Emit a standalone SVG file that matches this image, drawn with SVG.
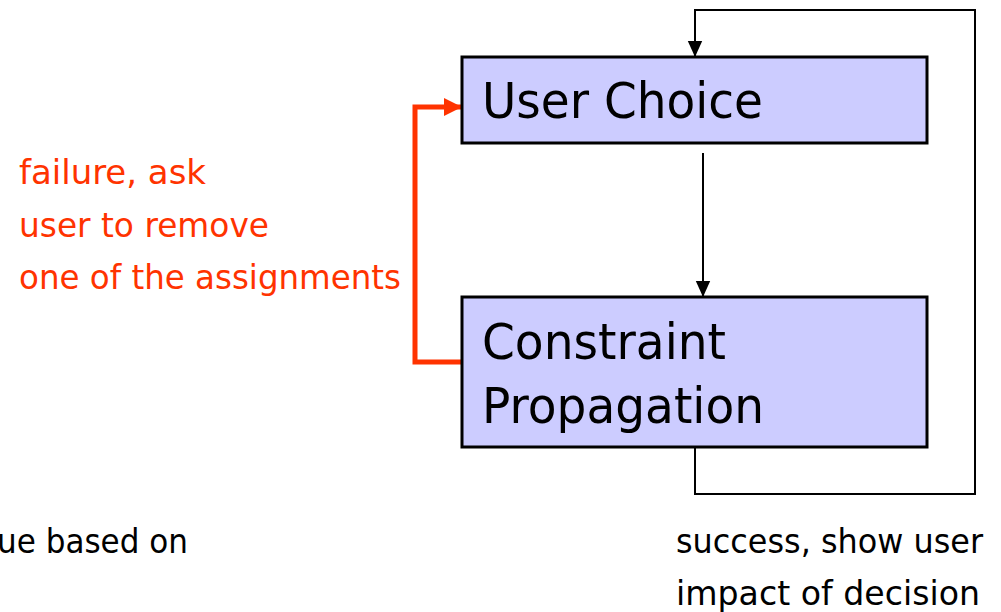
<svg xmlns="http://www.w3.org/2000/svg" width="1001" height="612" viewBox="0 0 1001 612">
  <defs>
    <marker id="arrowBlack" viewBox="0 0 10 10" refX="10" refY="5" markerWidth="16" markerHeight="16" markerUnits="userSpaceOnUse" orient="auto">
      <path d="M0,0.5 L10,5 L0,9.5 z" fill="#000"/>
    </marker>
    <marker id="arrowRed" viewBox="0 0 10 10" refX="10" refY="5" markerWidth="18" markerHeight="18" markerUnits="userSpaceOnUse" orient="auto">
      <path d="M0,0 L10,5 L0,10 z" fill="#ff3300"/>
    </marker>
    <style>
      .box { fill: #ccccff; stroke: #000; stroke-width: 3; }
      .label { font-family: "DejaVu Sans", sans-serif; font-size: 50px; fill: #000; }
      .note { font-family: "DejaVu Sans", sans-serif; font-size: 33px; fill: #000; }
      .fail { font-family: "DejaVu Sans", sans-serif; font-size: 33px; fill: #ff3300; }
      .link { fill: none; stroke: #000; stroke-width: 2; }
      .linkFail { fill: none; stroke: #ff3300; stroke-width: 5; }
    </style>
  </defs>

  <rect width="1001" height="612" fill="#fff"/>

  <g id="connectors">
    <!-- User Choice to Constraint Propagation -->
    <path class="link" d="M703,153 L703,297" marker-end="url(#arrowBlack)"/>
    <!-- success loop back to User Choice -->
    <path class="link" d="M695,447 L695,494 L975,494 L975,10 L695,10 L695,57" marker-end="url(#arrowBlack)"/>
    <!-- failure back to User Choice -->
    <path class="linkFail" d="M462,362 L415,362 L415,107 L462,107" marker-end="url(#arrowRed)"/>
  </g>

  <g id="user-choice">
    <rect class="box" x="462" y="57" width="465" height="86"/>
    <text class="label" x="482" y="118" textLength="281" lengthAdjust="spacingAndGlyphs">User Choice</text>
  </g>

  <g id="constraint-propagation">
    <rect class="box" x="462" y="297" width="465" height="150"/>
    <text class="label" x="482" y="359" textLength="244" lengthAdjust="spacingAndGlyphs">Constraint</text>
    <text class="label" x="482" y="423" textLength="282" lengthAdjust="spacingAndGlyphs">Propagation</text>
  </g>

  <g id="failure-label">
    <text class="fail" x="19" y="184" textLength="187" lengthAdjust="spacingAndGlyphs">failure, ask</text>
    <text class="fail" x="19" y="237" textLength="250" lengthAdjust="spacingAndGlyphs">user to remove</text>
    <text class="fail" x="19" y="289" textLength="382" lengthAdjust="spacingAndGlyphs">one of the assignments</text>
  </g>

  <g id="success-label">
    <text class="note" x="676" y="553" textLength="307" lengthAdjust="spacingAndGlyphs">success, show user</text>
    <text class="note" x="676" y="605" textLength="304" lengthAdjust="spacingAndGlyphs">impact of decision</text>
  </g>

  <g id="value-label">
    <text class="note" x="-3" y="553" textLength="191" lengthAdjust="spacingAndGlyphs">ue based on</text>
  </g>
</svg>
